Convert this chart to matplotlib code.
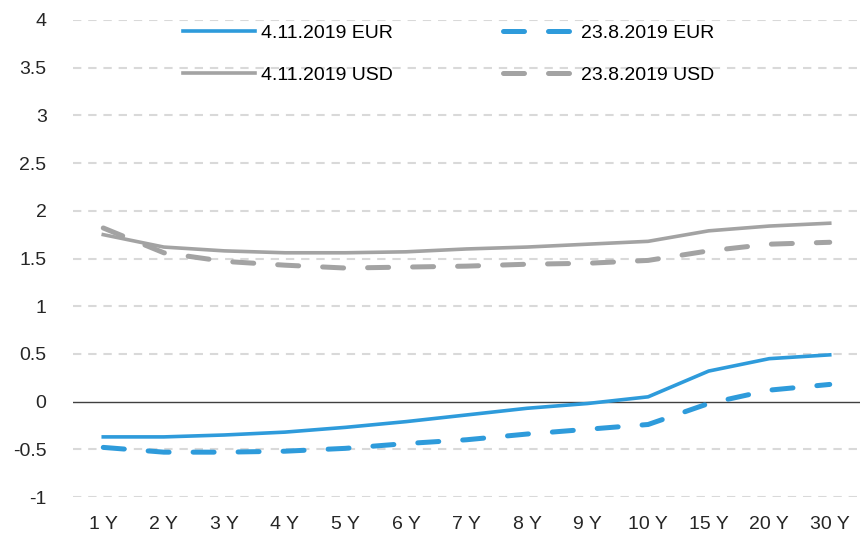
#!/usr/bin/env python3
# coding: utf-8
"""Yield curves EUR / USD, 4.11.2019 vs 23.8.2019."""
import matplotlib
matplotlib.use('AGG')
import matplotlib.pyplot as plt

# Data
tenors = ['1Y', '2Y', '3Y', '4Y', '5Y', '6Y', '7Y', '8Y', '9Y', '10Y', '15Y', '20Y', '30Y']
eur_nov = [-0.37, -0.37, -0.35, -0.32, -0.27, -0.21, -0.14, -0.07, -0.02, 0.05, 0.32, 0.45, 0.49]
eur_aug = [-0.48, -0.53, -0.53, -0.52, -0.49, -0.44, -0.40, -0.34, -0.29, -0.24, -0.02, 0.12, 0.18]
usd_nov = [1.75, 1.62, 1.58, 1.56, 1.56, 1.57, 1.60, 1.62, 1.65, 1.68, 1.79, 1.84, 1.87]
usd_aug = [1.82, 1.56, 1.47, 1.43, 1.40, 1.41, 1.42, 1.44, 1.45, 1.48, 1.58, 1.65, 1.67]
yticks = [-1, -0.5, 0, 0.5, 1, 1.5, 2, 2.5, 3, 3.5, 4]

plt.rcParams['font.family'] = ['Liberation Sans', 'DejaVu Sans']

BLUE = '#2E9BDB'
GREY = '#A3A3A3'
FS = 14

fig = plt.figure(figsize=(8.61, 5.40), dpi=100)
ax = fig.add_axes([73 / 861, 43 / 540, 787 / 861, 477 / 540])

x = list(range(len(tenors)))
dash = dict(lw=3.6, ls=(0, (4.2, 4.8)), dash_capstyle='round')
ax.plot(x, eur_nov, color=BLUE, lw=2.6, label='4.11.2019 EUR', zorder=4)
ax.plot(x, eur_aug, color=BLUE, label='23.8.2019 EUR', zorder=4, **dash)
ax.plot(x, usd_nov, color=GREY, lw=2.6, label='4.11.2019 USD', zorder=4)
ax.plot(x, usd_aug, color=GREY, label='23.8.2019 USD', zorder=4, **dash)

ax.set_xlim(-0.5, len(tenors) - 0.5)
ax.set_ylim(-1, 4)
ax.set_yticks(yticks)
ax.set_yticklabels(['%g' % t for t in yticks])
ax.set_xticks(x)
ax.set_xticklabels([t[:-1] + ' Y' for t in tenors])
ax.tick_params(length=0, labelsize=FS, colors='#262626')
ax.tick_params(axis='y', pad=19)
ax.tick_params(axis='x', pad=14)

for t in yticks:
    if t != 0:
        ax.axhline(t, color='#D9D9D9', lw=1.5, ls=(0, (4, 3.3)), zorder=1)
ax.axhline(0, color='#404040', lw=1.0, zorder=2)

for s in ax.spines.values():
    s.set_visible(False)

# legend order: column-wise (EUR nov, USD nov | EUR aug, USD aug)
h, l = ax.get_legend_handles_labels()
order = [0, 2, 1, 3]
fig.legend([h[i] for i in order], [l[i] for i in order], ncol=2, frameon=False,
           loc='upper left', bbox_to_anchor=(183 / 861, 1 - 24 / 540),
           fontsize=FS, handlelength=3.7, handletextpad=0.3, columnspacing=5.7,
           labelspacing=1.25, borderpad=0, borderaxespad=0)

fig.savefig('out.png', dpi=100)
